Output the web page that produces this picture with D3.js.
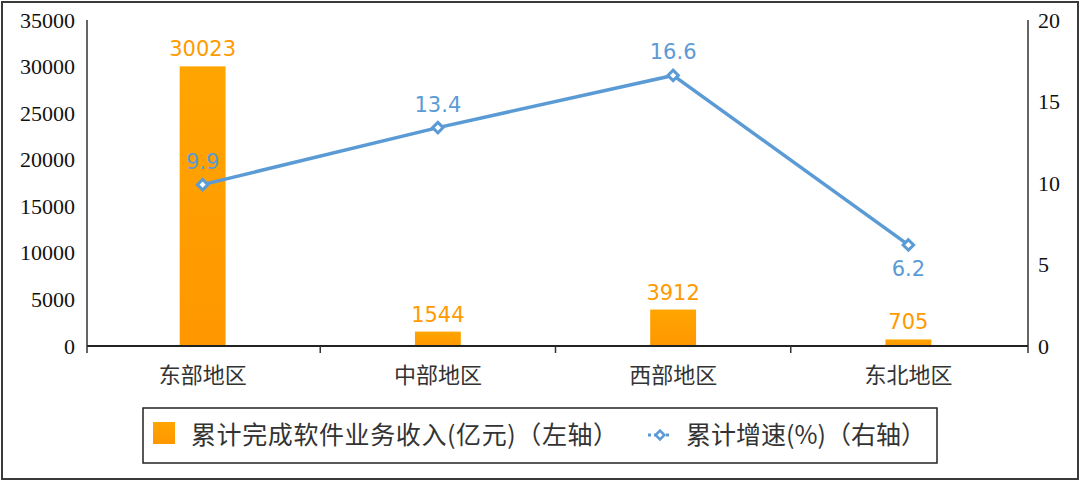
<!DOCTYPE html>
<html><head><meta charset="utf-8">
<script src="https://cdn.jsdelivr.net/npm/d3@7/dist/d3.min.js"></script>
<style>
body{margin:0;background:#fff}svg{display:block}
.tk text{font-family:"Liberation Serif","DejaVu Serif","Times New Roman",serif !important;font-size:22px !important;}
</style>
</head><body><svg id="c" width="1080" height="481"></svg>
<script>
const categories = ["东部地区","中部地区","西部地区","东北地区"];
const revenue = [30023, 1544, 3912, 705];
const growth = [9.9, 13.4, 16.6, 6.2];
const leftTicks = [0,5000,10000,15000,20000,25000,30000,35000];
const rightTicks = [0,5,10,15,20];
const legendLabels = ["累计完成软件业务收入(亿元)（左轴）","累计增速(%)（右轴）"];

const svg = d3.select("#c");
const W=1080,H=481;
const x0=87,x1=1028,yTop=20,yBase=346;
const x = d3.scaleBand().domain(categories).range([x0-2,x1-2]).paddingInner(0.805).paddingOuter(0.4025);
const yL = d3.scaleLinear().domain([0,35000]).range([yBase,yTop]);
const yR = d3.scaleLinear().domain([0,20]).range([yBase,yTop]);
const cjk = "'Noto Sans CJK SC', sans-serif";
const sans = "'DejaVu Sans', sans-serif";

// outer border
svg.append("rect").attr("x",2).attr("y",2).attr("width",W-4).attr("height",H-4)
  .attr("fill","#fff").attr("stroke","#3a3a3a").attr("stroke-width",2);

const defs=svg.append("defs");
const g=defs.append("linearGradient").attr("id","barg").attr("x1",0).attr("y1",0).attr("x2",0).attr("y2",1);
g.append("stop").attr("offset","0").attr("stop-color","#FFA500");
g.append("stop").attr("offset","1").attr("stop-color","#FF9700");

// bars
svg.selectAll(".bar").data(revenue).join("rect")
  .attr("x",(d,i)=>x(categories[i])).attr("width",x.bandwidth())
  .attr("y",d=>yL(d)).attr("height",d=>yBase-yL(d)).attr("fill","url(#barg)");

// axes
const axL = svg.append("g").attr("class","tk").attr("transform",`translate(${x0},0)`)
  .call(d3.axisLeft(yL).tickValues(leftTicks).tickSize(0).tickPadding(12).tickFormat(d3.format("d")));
const axR = svg.append("g").attr("class","tk").attr("transform",`translate(${x1},0)`)
  .call(d3.axisRight(yR).tickValues(rightTicks).tickSize(0).tickPadding(10).tickFormat(d3.format("d")));
[axL,axR].forEach(a=>{
  a.attr("font-family",null).attr("font-size",null);
  a.select(".domain").attr("stroke","#333").attr("stroke-width",1.5).attr("d",`M0,${yTop}V${yBase}`);
  a.selectAll("text").attr("fill","#111");
});
const axB = svg.append("g").attr("transform",`translate(0,${yBase})`)
  .call(d3.axisBottom(x).tickSize(0).tickPadding(21));
axB.attr("font-family",null).attr("font-size",null);
axB.select(".domain").attr("stroke","#222").attr("stroke-width",2).attr("d",`M${x0},0H${x1}`);
axB.selectAll("text").style("font-family",cjk).style("font-size","22px").attr("fill","#333");
// category boundary ticks
const bounds = [x0, ...categories.slice(1).map(c=>x(c)-x.step()*x.paddingInner()/2), x1];
svg.selectAll(".bt").data(bounds).join("line")
  .attr("x1",d=>d).attr("x2",d=>d).attr("y1",yBase).attr("y2",yBase+7)
  .attr("stroke","#333").attr("stroke-width",1.5);

// bar labels
svg.selectAll(".bl").data(revenue).join("text")
  .attr("x",(d,i)=>x(categories[i])+x.bandwidth()/2).attr("y",d=>yL(d)-10)
  .attr("text-anchor","middle").style("font-family",sans).style("font-size","21px")
  .attr("fill","#FF9A00").text(d=>d);

// line
const cx=(i)=>x(categories[i])+x.bandwidth()/2;
const line=d3.line().x((d,i)=>cx(i)).y(d=>yR(d));
svg.append("path").datum(growth).attr("d",line).attr("fill","none").attr("stroke","#5B9BD5").attr("stroke-width",3.5);
const diamond=d3.symbol().type(d3.symbolDiamond2).size(70);
svg.selectAll(".pt").data(growth).join("path")
  .attr("d",diamond).attr("transform",(d,i)=>`translate(${cx(i)},${yR(d)})`)
  .attr("fill","#fff").attr("stroke","#5B9BD5").attr("stroke-width",3);
svg.selectAll(".ll").data(growth).join("text")
  .attr("x",(d,i)=>cx(i)).attr("y",(d,i)=> i===3 ? yR(d)+31 : yR(d)-16)
  .attr("text-anchor","middle").style("font-family",sans).style("font-size","21px")
  .attr("fill","#5B9BD5").text(d=>d.toFixed(1));

// legend
const lg=svg.append("g");
lg.append("rect").attr("x",143).attr("y",408).attr("width",794).attr("height",55)
  .attr("fill","#fff").attr("stroke","#222").attr("stroke-width",1.5);
lg.append("rect").attr("x",153).attr("y",422).attr("width",22).attr("height",22).attr("fill","url(#barg)");
lg.append("text").attr("x",191).attr("y",444).style("font-family",cjk)
  .style("font-size","25px").style("letter-spacing","0.6px").attr("fill","#333").text(legendLabels[0]);
lg.append("line").attr("x1",648).attr("x2",672).attr("y1",435).attr("y2",435)
  .attr("stroke","#5B9BD5").attr("stroke-width",3).attr("stroke-dasharray","3,3");
lg.append("path").attr("d",d3.symbol().type(d3.symbolDiamond2).size(50)).attr("transform","translate(660,435)")
  .attr("fill","#fff").attr("stroke","#5B9BD5").attr("stroke-width",2.5);
lg.append("text").attr("x",686).attr("y",444).style("font-family",cjk)
  .style("font-size","25px").attr("fill","#333").text(legendLabels[1]);
</script></body></html>
